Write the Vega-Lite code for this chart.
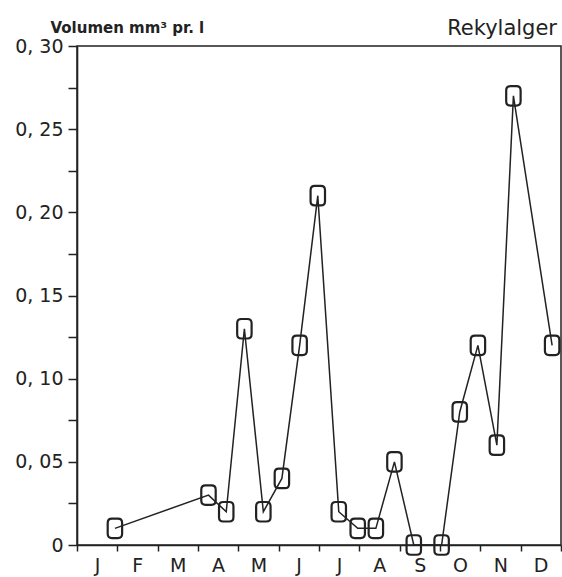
{
  "$schema": "https://vega.github.io/schema/vega-lite/v6.json",
  "width": 484,
  "height": 499,
  "autosize": {"type": "none"},
  "padding": {"left": 77, "top": 46, "right": 1, "bottom": 32},
  "background": "white",
  "title": {"text": "Rekylalger", "anchor": "end", "frame": "group", "font": "DejaVu Sans", "fontSize": 21, "fontWeight": "normal", "color": "#222", "offset": -19, "dx": -4},
  "config": {
    "view": {"stroke": "#222", "strokeWidth": 1.5},
    "axis": {"grid": false, "domainColor": "#222", "domainWidth": 1.6, "tickColor": "#222", "tickWidth": 1.5, "labelColor": "#222", "labelFont": "DejaVu Sans", "labelFontSize": 19}
  },
  "data": {"values": [
    {"month": 0.94, "value": 0.01},
    {"month": 3.26, "value": 0.03},
    {"month": 3.70, "value": 0.02},
    {"month": 4.15, "value": 0.13},
    {"month": 4.62, "value": 0.02},
    {"month": 5.08, "value": 0.04},
    {"month": 5.52, "value": 0.12},
    {"month": 5.97, "value": 0.21},
    {"month": 6.49, "value": 0.02},
    {"month": 6.96, "value": 0.01},
    {"month": 7.41, "value": 0.01},
    {"month": 7.87, "value": 0.05},
    {"month": 8.35, "value": 0.0},
    {"month": 9.04, "value": 0.0},
    {"month": 9.49, "value": 0.08},
    {"month": 9.94, "value": 0.12},
    {"month": 10.41, "value": 0.06},
    {"month": 10.82, "value": 0.27},
    {"month": 11.78, "value": 0.12}
  ]},
  "encoding": {
    "x": {"field": "month", "type": "quantitative", "scale": {"domain": [0, 12], "nice": false, "zero": false},
      "axis": {"title": null, "values": [0,1,2,3,4,5,6,7,8,9,10,11,12], "tickSize": 6, "labelOffset": 20, "labelPadding": 5, "labelFlush": false, "labelOverlap": false, "labelBound": false,
        "labelExpr": "['J','F','M','A','M','J','J','A','S','O','N','D',''][datum.value]"}},
    "y": {"field": "value", "type": "quantitative", "scale": {"domain": [0, 0.3], "nice": false},
      "axis": {"title": "Volumen mm³ pr. l", "titleAngle": 0, "titleAlign": "left", "titleBaseline": "alphabetic", "titleX": -27, "titleY": -14, "titleFont": "DejaVu Sans", "titleFontSize": 15, "titleFontWeight": "bold", "titleColor": "#222",
        "values": [0, 0.025, 0.05, 0.075, 0.1, 0.125, 0.15, 0.175, 0.2, 0.225, 0.25, 0.275, 0.3],
        "tickSize": 9, "labelPadding": 5, "labelOverlap": false, "labelFlush": false,
        "labelExpr": "round(datum.value*40)%2==0 ? (datum.value==0 ? '0' : replace(format(datum.value,'.2f'),'.',', ')) : ''",
        "encode": {"ticks": {"update": {"x2": {"signal": "round(datum.value*40)%2==0 ? -9 : -5"}}}}}}
  },
  "layer": [
    {"mark": {"type": "line", "color": "#222", "strokeWidth": 1.5}},
    {"mark": {"type": "point", "shape": "M -0.3 -1 L 0.3 -1 Q 0.74 -1 0.74 -0.56 L 0.74 0.56 Q 0.74 1 0.3 1 L -0.3 1 Q -0.74 1 -0.74 0.56 L -0.74 -0.56 Q -0.74 -1 -0.3 -1 Z", "size": 380, "filled": false, "stroke": "#222", "strokeWidth": 2.2, "opacity": 1}}
  ]
}
